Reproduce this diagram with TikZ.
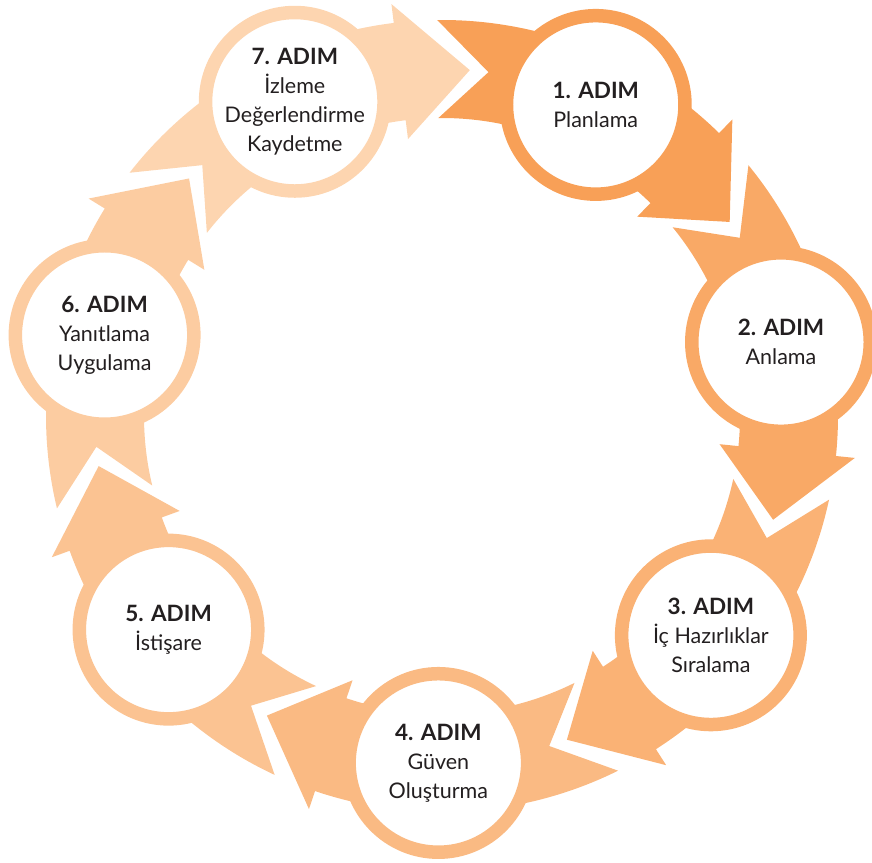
\documentclass[tikz,border=0pt]{standalone}
\usepackage{fontspec}
\setmainfont{Lato}
\definecolor{adimA}{HTML}{F8A057}
\definecolor{adimB}{HTML}{F9A966}
\definecolor{adimC}{HTML}{FAB275}
\definecolor{adimD}{HTML}{FABA83}
\definecolor{adimE}{HTML}{FBC392}
\definecolor{adimF}{HTML}{FCCCA1}
\definecolor{adimG}{HTML}{FDD5B0}
\definecolor{adimtext}{HTML}{231F20}

\begin{document}
\begin{tikzpicture}[x=1pt,y=1pt,
	adim/.style={circle,draw=#1,fill=white,line width=13.5pt,minimum size=178.5pt,
		inner sep=0pt,align=center,text=adimtext,font=\fontsize{21.5}{29}\selectfont}]
	\useasboundingbox (0,0) rectangle (872,862);
	\begin{scope}[shift={(442,446)}]
	% bands with notched tail and head
	\fill[adimA] (90.7:396) -- (82.3:347) -- (90.7:298) arc[start angle=90.7,end angle=45.6,radius=298]
		-- (45.6:279) -- (34.0:347) -- (45.6:415) -- (45.6:396) arc[start angle=45.6,end angle=90.7,radius=396] -- cycle;
	\fill[adimB] (39.3:396) -- (30.9:347) -- (39.3:298) arc[start angle=39.3,end angle=-5.8,radius=298]
		-- (-5.8:279) -- (-17.4:347) -- (-5.8:415) -- (-5.8:396) arc[start angle=-5.8,end angle=39.3,radius=396] -- cycle;
	\fill[adimC] (-12.2:396) -- (-20.6:347) -- (-12.2:298) arc[start angle=-12.2,end angle=-57.3,radius=298]
		-- (-57.3:279) -- (-68.9:347) -- (-57.3:415) -- (-57.3:396) arc[start angle=-57.3,end angle=-12.2,radius=396] -- cycle;
	\fill[adimD] (-63.6:396) -- (-72.0:347) -- (-63.6:298) arc[start angle=-63.6,end angle=-108.7,radius=298]
		-- (-108.7:279) -- (-120.3:347) -- (-108.7:415) -- (-108.7:396) arc[start angle=-108.7,end angle=-63.6,radius=396] -- cycle;
	\fill[adimE] (-115.0:396) -- (-123.4:347) -- (-115.0:298) arc[start angle=-115.0,end angle=-160.1,radius=298]
		-- (-160.1:279) -- (-171.7:347) -- (-160.1:415) -- (-160.1:396) arc[start angle=-160.1,end angle=-115.0,radius=396] -- cycle;
	\fill[adimF] (-166.5:396) -- (-174.9:347) -- (-166.5:298) arc[start angle=-166.5,end angle=-211.6,radius=298]
		-- (-211.6:279) -- (-223.2:347) -- (-211.6:415) -- (-211.6:396) arc[start angle=-211.6,end angle=-166.5,radius=396] -- cycle;
	\fill[adimG] (-217.9:396) -- (-226.3:347) -- (-217.9:298) arc[start angle=-217.9,end angle=-263.0,radius=298]
		-- (-263.0:279) -- (-274.6:347) -- (-263.0:415) -- (-263.0:396) arc[start angle=-263.0,end angle=-217.9,radius=396] -- cycle;
	% steps
	\node[adim=adimA] (adim1) at (63.7:347) {{\fontsize{22.5}{29}\selectfont\bfseries 1. ADIM}\\Planlama};
	\node[adim=adimB] (adim2) at (12.3:347) {{\fontsize{22.5}{29}\selectfont\bfseries 2. ADIM}\\Anlama};
	\node[adim=adimC] (adim3) at (-39.2:347) {{\fontsize{22.5}{29}\selectfont\bfseries 3. ADIM}\\İç Hazırlıklar\\Sıralama};
	\node[adim=adimD] (adim4) at (-90.6:347) {{\fontsize{22.5}{29}\selectfont\bfseries 4. ADIM}\\Güven\\Oluşturma};
	\node[adim=adimE] (adim5) at (-142.0:347) {{\fontsize{22.5}{29}\selectfont\bfseries 5. ADIM}\\İstişare};
	\node[adim=adimF] (adim6) at (-193.5:347) {{\fontsize{22.5}{29}\selectfont\bfseries 6. ADIM}\\Yanıtlama\\Uygulama};
	\node[adim=adimG] (adim7) at (-244.9:347) {{\fontsize{22.5}{29}\selectfont\bfseries 7. ADIM}\\İzleme\\Değerlendirme\\Kaydetme};
	\end{scope}
\end{tikzpicture}
\end{document}
